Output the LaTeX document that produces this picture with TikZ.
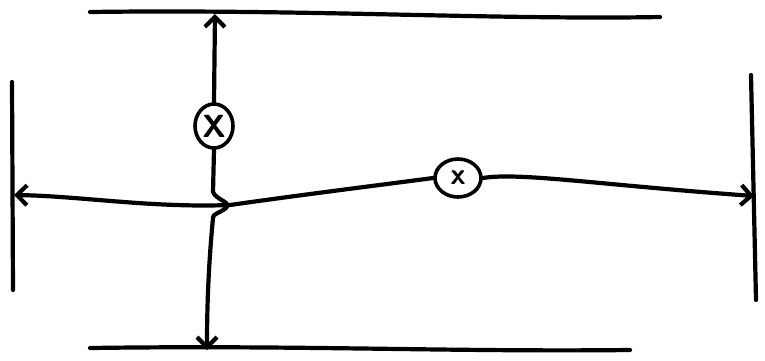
\documentclass[tikz,border=0pt]{standalone}
\usetikzlibrary{arrows.meta,shapes.geometric}
\begin{document}
\begin{tikzpicture}[x=1pt,y=-1pt,
  pen/.style={line width=4.2pt,line cap=round,line join=round,black},
  tip/.style={-{Straight Barb[length=10pt,width=20pt,line width=4.2pt]}},
  mult/.style={draw,line width=3.6pt,ellipse,inner sep=0pt,font=\sffamily\bfseries\fontsize{32}{32}\selectfont}]
\useasboundingbox (0,0) rectangle (765,360);
% rails
\coordinate (t1) at (90,12); \coordinate (t2) at (660,17);
\coordinate (b1) at (90,348); \coordinate (b2) at (630,350);
\coordinate (l1) at (12,82); \coordinate (l2) at (13,290);
\coordinate (r1) at (751,75); \coordinate (r2) at (756,300);
\draw[pen] (t1) .. controls (300,9) and (500,20) .. (t2);
\draw[pen] (b1) .. controls (300,345) and (450,352) .. (b2);
\draw[pen] (l1) -- (l2);
\draw[pen] (r1) -- (r2);
% multiplier nodes
\node[mult,minimum width=38pt,minimum height=44pt] (m1) at (214,126) {X};
\node[mult,minimum width=46pt,minimum height=38pt,font=\sffamily\bfseries\fontsize{30}{30}\selectfont] (m2) at (458,178) {x};
% vertical arrow up
\coordinate (up) at (215,14);
\draw[pen,tip] (m1.north) -- (up);
% vertical down with hop
\coordinate (hop1) at (213,192);
\coordinate (hop2) at (213,218);
\coordinate (dn) at (207,350);
\draw[pen] (m1.south) -- (hop1) .. controls (216,200) and (232,202) .. (226,208) .. controls (220,213) and (212,214) .. (hop2);
\draw[pen,tip] (hop2) .. controls (209,260) and (207,300) .. (dn);
% horizontal arrows
\coordinate (lt) at (14,195);
\coordinate (rt) at (754,196);
\draw[pen,tip] (m2.west) .. controls (380,185) and (300,195) .. (230,205) .. controls (150,208) and (80,196) .. (lt);
\draw[pen,tip] (m2.east) .. controls (520,172) and (600,185) .. (rt);
\end{tikzpicture}
\end{document}
